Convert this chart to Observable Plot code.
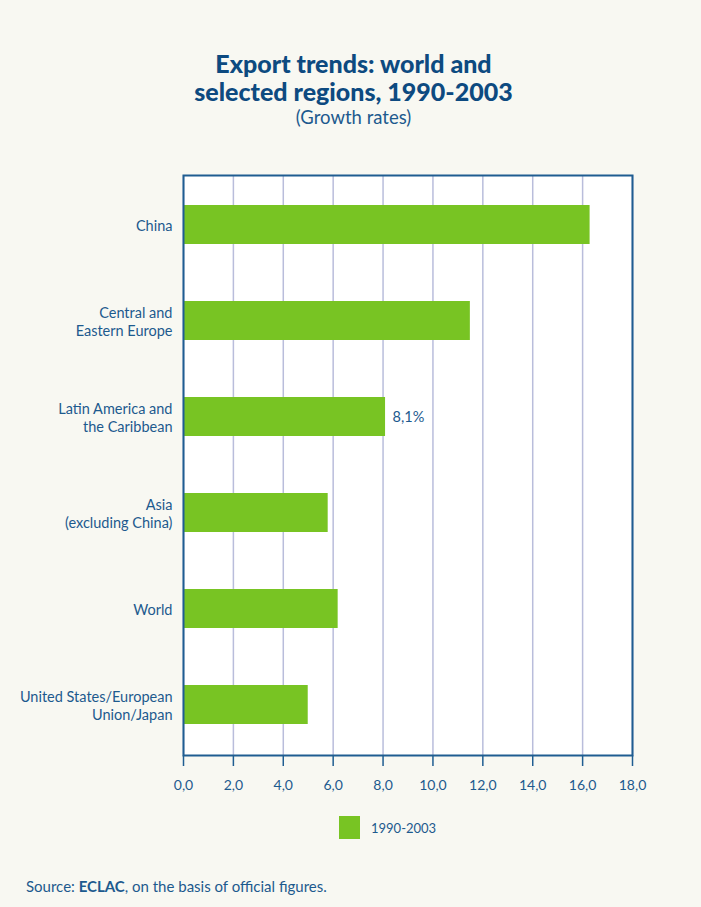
<!DOCTYPE html>
<html>
<head>
<meta charset="utf-8">
<script src="https://cdn.jsdelivr.net/npm/d3@7"></script>
<script src="https://cdn.jsdelivr.net/npm/@observablehq/plot@0.6"></script>
<style>
  html, body { margin: 0; padding: 0; background: #f8f8f2; }
  body { width: 701px; height: 907px; position: relative; overflow: hidden; font-family: Lato, "Open Sans", sans-serif; color: #1d5a8e; }
  #title { position: absolute; left: 0; width: 701px; top: 49px; text-align: center; font-weight: 900; font-size: 25px; line-height: 28px; color: #0d4a80; padding-left: 6px; box-sizing: border-box; }
  #subtitle { position: absolute; left: 0; width: 701px; top: 106px; text-align: center; font-size: 18.5px; color: #1d5a8e; padding-left: 6px; box-sizing: border-box; }
  #chart { position: absolute; left: 0; top: 140px; }
  #legend { position: absolute; left: 339px; top: 816px; display: flex; align-items: center; font-size: 13px; color: #1d5a8e; }
  #legend .sw { width: 21px; height: 23px; background: #78c423; margin-right: 11px; }
  #source { position: absolute; left: 26px; top: 877px; font-size: 15px; color: #1d5a8e; }
</style>
</head>
<body>
<div id="title">Export trends: world and<br>selected regions, 1990-2003</div>
<div id="subtitle">(Growth rates)</div>
<div id="chart"></div>
<div id="legend"><div class="sw"></div><span>1990-2003</span></div>
<div id="source">Source: <b>ECLAC</b>, on the basis of official figures.</div>
<script>
const categories = [
  "China",
  "Central and\nEastern Europe",
  "Latin America and\nthe Caribbean",
  "Asia\n(excluding China)",
  "World",
  "United States/European\nUnion/Japan"
];
const values = [16.3, 11.5, 8.1, 5.8, 6.2, 5.0];
const xTicks = [0, 2, 4, 6, 8, 10, 12, 14, 16, 18];
const annotatedCategory = "Latin America and\nthe Caribbean";
const annotationText = "8,1%";
const seriesName = "1990-2003";

const data = categories.map((c, i) => ({category: c, value: values[i]}));
const annotated = data.filter(d => d.category === annotatedCategory);

const blue = "#1d5a8e";
const chart = Plot.plot({
  width: 701,
  height: 660,
  marginLeft: 183,
  marginRight: 69,
  marginTop: 35,
  marginBottom: 45,
  style: {background: "transparent", fontFamily: "Lato, 'Open Sans', sans-serif", color: blue},
  x: {domain: [0, 18]},
  y: {domain: categories, paddingInner: 0.59, paddingOuter: 0.295},
  marks: [
    Plot.frame({fill: "white", stroke: null}),
    Plot.ruleX(xTicks, {stroke: "#b9bddb", strokeWidth: 1.5}),
    Plot.barX(data, {x: "value", y: "category", fill: "#78c423"}),
    Plot.text(annotated, {x: "value", y: "category", text: () => annotationText, dx: 7, textAnchor: "start", fontSize: 14.5, fill: blue}),
    Plot.frame({stroke: "#1f5d91", strokeWidth: 2}),
    Plot.axisX({ticks: xTicks, tickFormat: d => d.toFixed(1).replace(".", ","), tickSize: 11, tickPadding: 14, stroke: "#1f5d91", strokeWidth: 1.5, fontSize: 14, fill: blue, label: null}),
    Plot.axisY({tickSize: 0, tickPadding: 11, fontSize: 14.5, lineHeight: 1.25, fill: blue, label: null})
  ]
});
document.getElementById("chart").appendChild(chart);
</script>
</body>
</html>
